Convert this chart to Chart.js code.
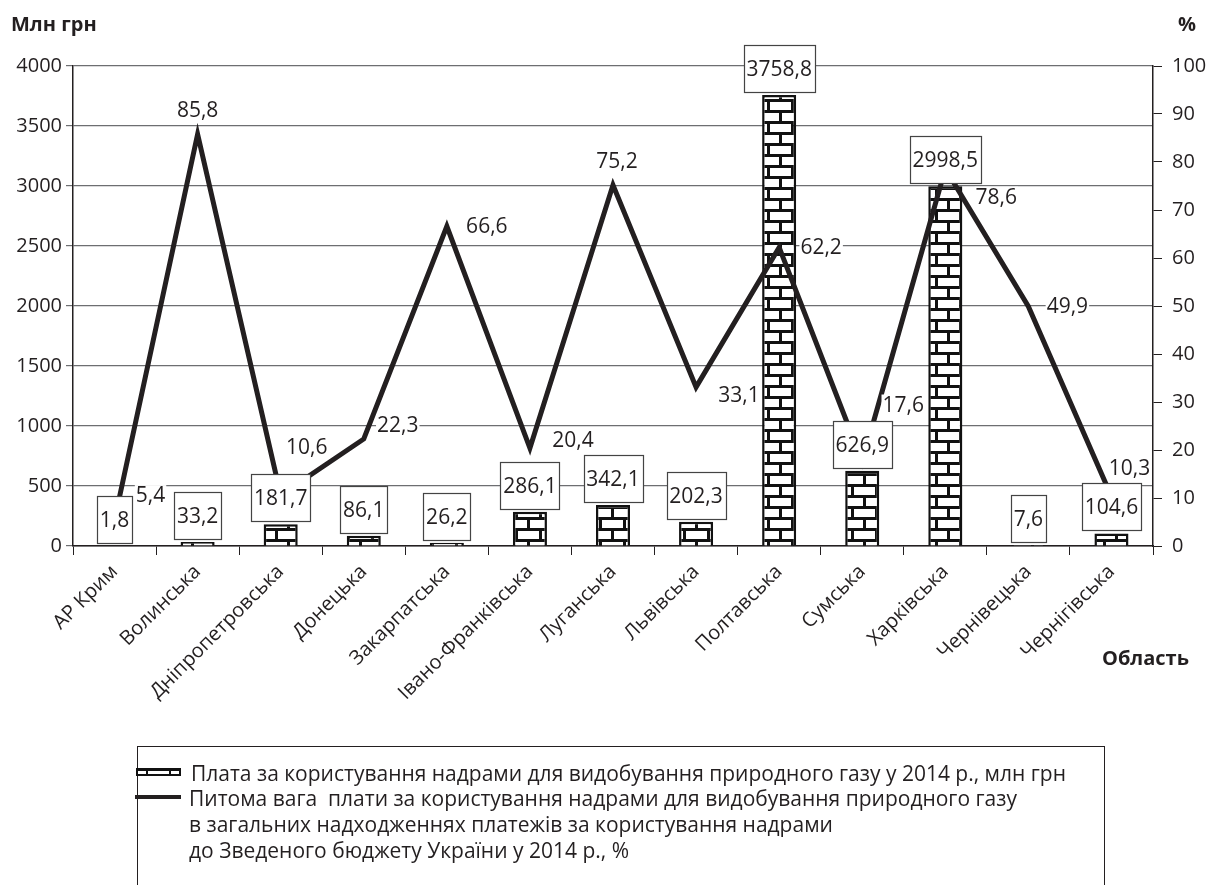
<!DOCTYPE html>
<html>
<head>
<meta charset="utf-8">
<script src="https://cdn.jsdelivr.net/npm/chart.js@4.4.1/dist/chart.umd.min.js"></script>
<style>
  body { margin: 0; background: #fff; overflow: hidden; }
  #wrap { position: relative; width: 1210px; height: 885px; overflow: hidden; }
  #legendBox {
    position: absolute; left: 137px; top: 746px; width: 966px; height: 200px;
    border: 1px solid #231f20; border-bottom: none;
    font-family: "Open Sans", sans-serif; font-size: 21px; color: #231f20;
  }
  .item { position: absolute; left: 0; white-space: nowrap; }
  .txt { position: absolute; left: 53px; line-height: 26px; }
</style>
</head>
<body>
<div id="wrap">
  <canvas id="myChart" width="1210" height="885"></canvas>
  <div id="legendBox">
    <div class="item" style="top:13px">
      <canvas id="brickIcon" width="45" height="8" style="position:absolute;left:-2px;top:8px"></canvas>
      <div class="txt" style="top:0">Плата за користування надрами для видобування природного газу у 2014 р., млн грн</div>
    </div>
    <div class="item" style="top:38px">
      <div style="position:absolute;left:-3px;top:10px;width:46px;height:4px;background:#231f20"></div>
      <div class="txt" style="top:0;left:51px">Питома вага&nbsp; плати за користування надрами для видобування природного газу<br>в загальних надходженнях платежів за користування надрами<br>до Зведеного бюджету України у 2014 р., %</div>
    </div>
  </div>
</div>
<script>
// regions
const regions = [
  "АР Крим", "Волинська", "Дніпропетровська", "Донецька", "Закарпатська",
  "Івано-Франківська", "Луганська", "Львівська", "Полтавська", "Сумська",
  "Харківська", "Чернівецька", "Чернігівська"
];
// payment for gas extraction, mln UAH
const payments = [1.8, 33.2, 181.7, 86.1, 26.2, 286.1, 342.1, 202.3, 3758.8, 626.9, 2998.5, 7.6, 104.6];
// share in total subsoil payments, %
const shares = [5.4, 85.8, 10.6, 22.3, 66.6, 20.4, 75.2, 33.1, 62.2, 17.6, 78.6, 49.9, 10.3];

// axis ranges
const leftMax = 4000, leftStep = 500;
const rightMax = 100, rightStep = 10;

// where each % label sits relative to its point (dx, dy)
const shareLabelShift = [
  [36, -25], [0, -24], [26, -48], [34, -14], [40, 0], [43, -8], [4, -24],
  [43, 8], [42, 0], [41, -57], [51, 28], [39, 0], [18, -29]
];

const ink = "#231f20";
const font = '"Open Sans", sans-serif';

// brick fill for the bars
function makeBricks(ctx) {
  const c = document.createElement("canvas");
  c.width = 24; c.height = 22;
  const g = c.getContext("2d");
  g.fillStyle = "#fff";
  g.fillRect(0, 0, 24, 22);
  g.fillStyle = "#111";
  g.fillRect(0, 0, 24, 3);
  g.fillRect(0, 11, 24, 3);
  g.fillRect(11, 3, 3, 8);
  g.fillRect(0, 14, 2, 8);
  g.fillRect(23, 14, 1, 8);
  return ctx.createPattern(c, "repeat");
}

// legend icon
(function () {
  const ic = document.getElementById("brickIcon").getContext("2d");
  ic.fillStyle = "#fff";
  ic.fillRect(0, 0, 45, 8);
  ic.fillStyle = "#111";
  ic.fillRect(0, 0, 45, 3);
  ic.fillRect(0, 6, 45, 2);
  ic.fillRect(0, 0, 2, 8);
  ic.fillRect(43, 0, 2, 8);
  ic.fillRect(10, 0, 2, 8);
  ic.fillRect(33, 0, 2, 8);
})();

const valueLabels = {
  id: "valueLabels",
  afterDatasetsDraw(chart) {
    const ctx = chart.ctx;
    ctx.save();
    ctx.font = "21px " + font;
    ctx.textAlign = "center";
    ctx.textBaseline = "middle";

    // % labels next to the line
    const lineMeta = chart.getDatasetMeta(1);
    lineMeta.data.forEach((pt, i) => {
      const txt = shares[i].toFixed(1).replace(".", ",");
      const x = pt.x + shareLabelShift[i][0];
      const y = pt.y + shareLabelShift[i][1];
      const w = ctx.measureText(txt).width;
      ctx.fillStyle = "#fff";
      ctx.fillRect(x - w / 2 - 1, y - 10, w + 2, 21);
      ctx.fillStyle = ink;
      ctx.fillText(txt, x, y + 1);
    });

    // boxed payment labels above the bars
    const barMeta = chart.getDatasetMeta(0);
    barMeta.data.forEach((bar, i) => {
      const txt = payments[i].toFixed(1).replace(".", ",");
      const w = Math.round(ctx.measureText(txt).width + 6);
      const h = 47;
      const bottom = Math.round(bar.y - 3);
      const left = Math.round(bar.x - w / 2);
      ctx.fillStyle = "#fff";
      ctx.fillRect(left, bottom - h, w, h);
      ctx.strokeStyle = "#444";
      ctx.lineWidth = 1.2;
      ctx.strokeRect(left + 0.5, bottom - h + 0.5, w, h);
      ctx.fillStyle = ink;
      ctx.fillText(txt, bar.x, bottom - h / 2 + 2);
    });
    ctx.restore();
  },
  afterDraw(chart) {
    const ctx = chart.ctx;
    ctx.save();
    ctx.fillStyle = ink;
    ctx.font = "bold 20px " + font;
    ctx.textBaseline = "middle";
    ctx.textAlign = "left";
    ctx.fillText("Млн грн", 11, 25);
    ctx.fillText("Область", 1102, 659);
    ctx.textAlign = "right";
    ctx.fillText("%", 1196, 25);
    ctx.restore();
  }
};

const ctx = document.getElementById("myChart").getContext("2d");
const myChart = new Chart(ctx, {
  type: "bar",
  data: {
    labels: regions,
    datasets: [
      {
        type: "bar",
        data: payments,
        yAxisID: "y",
        backgroundColor: makeBricks(ctx),
        borderColor: "#111",
        borderWidth: 2.5,
        barPercentage: 0.41,
        categoryPercentage: 1,
        order: 2
      },
      {
        type: "line",
        data: shares,
        yAxisID: "y1",
        borderColor: ink,
        borderWidth: 5,
        pointRadius: 0,
        tension: 0,
        fill: false,
        order: 1
      }
    ]
  },
  options: {
    responsive: false,
    animation: false,
    devicePixelRatio: 1,
    layout: { padding: { top: 66, left: 0, right: 0, bottom: 0 } },
    plugins: { legend: { display: false }, tooltip: { enabled: false } },
    scales: {
      x: {
        offset: true,
        grid: { display: true, drawOnChartArea: false, offset: true, tickLength: 9, color: ink, tickColor: ink },
        border: { color: ink, width: 1.5 },
        ticks: {
          color: ink, font: { family: font, size: 20 },
          minRotation: 45, maxRotation: 45, autoSkip: false, padding: 5
        },
        afterFit(scale) { scale.height = 885 - 546; }
      },
      y: {
        position: "left",
        min: 0, max: leftMax,
        ticks: { stepSize: leftStep, color: ink, font: { family: font, size: 20 }, padding: 4, callback: (v) => v },
        grid: { color: "#6d6e71", lineWidth: 1.2, tickLength: 7, tickColor: "#6d6e71" },
        border: { color: ink, width: 1.5 },
        afterFit(scale) { scale.width = 73; }
      },
      y1: {
        position: "right",
        min: 0, max: rightMax,
        ticks: { stepSize: rightStep, color: ink, font: { family: font, size: 20 }, padding: 10, callback: (v) => v },
        grid: { drawOnChartArea: false, tickLength: 9, tickColor: ink },
        border: { color: ink, width: 1.5 },
        afterFit(scale) { scale.width = 57; }
      }
    }
  },
  plugins: [valueLabels]
});
</script>
</body>
</html>
